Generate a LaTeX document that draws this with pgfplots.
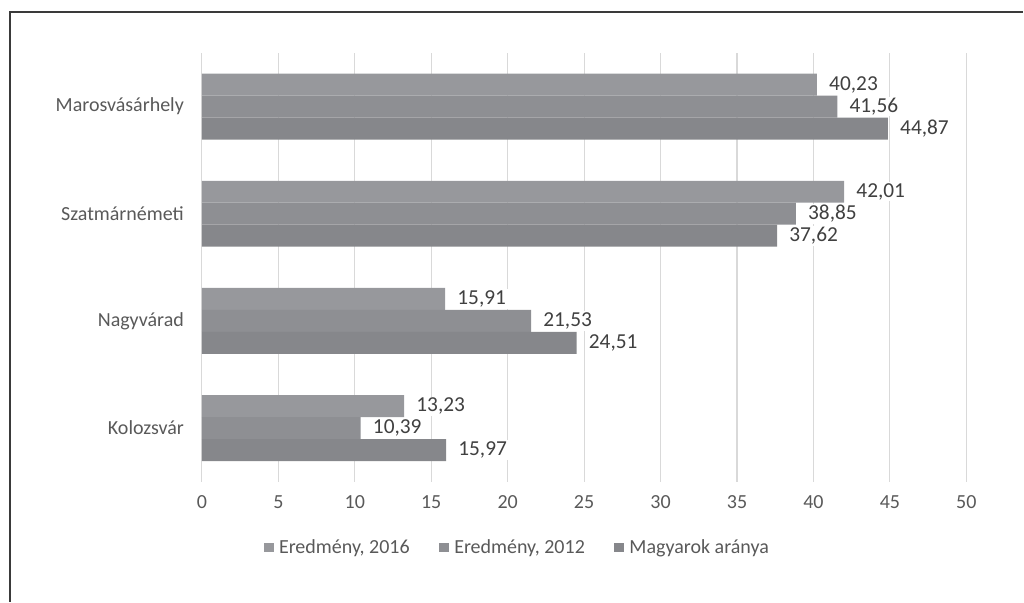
\documentclass[border=0pt]{standalone}
\usepackage{fontspec}
\setmainfont{Carlito}
\usepackage{pgfplots}
\pgfplotsset{compat=1.18}
\definecolor{barA}{HTML}{97989C}
\definecolor{barB}{HTML}{8E8F93}
\definecolor{barC}{HTML}{86878B}
\definecolor{gridgray}{HTML}{D9D9D9}
\definecolor{tickgray}{HTML}{595959}
\definecolor{labelgray}{HTML}{404040}
\definecolor{framegray}{HTML}{3A3A3A}
\begin{document}
\begin{tikzpicture}
% 1 px of the reference = 0.75pt
\path (0pt,0pt) rectangle (768pt,451.5pt);
\draw[line width=1pt, framegray] (7.5pt,0pt) -- (7.5pt,442.5pt) -- (768pt,442.5pt);
\begin{axis}[
    at={(151.5pt,90pt)}, anchor=south west,
    scale only axis,
    width=573.75pt, height=321.75pt,
    xbar,
    xmin=0, xmax=50,
    ymin=0.5, ymax=4.5,
    xtick={0,5,...,50},
    ytick={1,2,3,4},
    yticklabels={Kolozsvár,Nagyvárad,Szatmárnémeti,Marosvásárhely},
    xmajorgrids,
    grid style={gridgray, line width=0.8pt},
    axis line style={draw=none},
    major tick length=0pt,
    /pgf/number format/assume math mode=true,
    ticklabel style={font=\fontsize{15}{17}\selectfont, text=tickgray},
    xticklabel style={yshift=-7pt},
    yticklabel style={xshift=-10pt},
    bar width=0.205,
    point meta=explicit symbolic,
    nodes near coords,
    nodes near coords style={anchor=west, fill=white, inner xsep=3pt, inner ysep=1pt, xshift=6pt,
        font=\fontsize{16}{18}\selectfont, text=labelgray},
    legend columns=3,
    legend style={at={(0.413,-0.154)}, anchor=center, draw=none, fill=none,
        font=\fontsize{15}{17}\selectfont, text=tickgray,
        /tikz/every odd column/.append style={column sep=2pt},
        /tikz/every even column/.append style={column sep=20pt}},
    legend image code/.code={\fill[#1] (0pt,-3.3pt) rectangle (7.5pt,3.2pt);},
]
\addplot[fill=barA, draw=none, bar shift=0.205] coordinates {
    (13.23,1) [13,23]
    (15.91,2) [15,91]
    (42.01,3) [42,01]
    (40.23,4) [40,23]
};
\addplot[fill=barB, draw=none, bar shift=0] coordinates {
    (10.39,1) [10,39]
    (21.53,2) [21,53]
    (38.85,3) [38,85]
    (41.56,4) [41,56]
};
\addplot[fill=barC, draw=none, bar shift=-0.205] coordinates {
    (15.97,1) [15,97]
    (24.51,2) [24,51]
    (37.62,3) [37,62]
    (44.87,4) [44,87]
};
\legend{{Eredmény, 2016},{Eredmény, 2012},{Magyarok aránya}}
\end{axis}
\end{tikzpicture}
\end{document}
